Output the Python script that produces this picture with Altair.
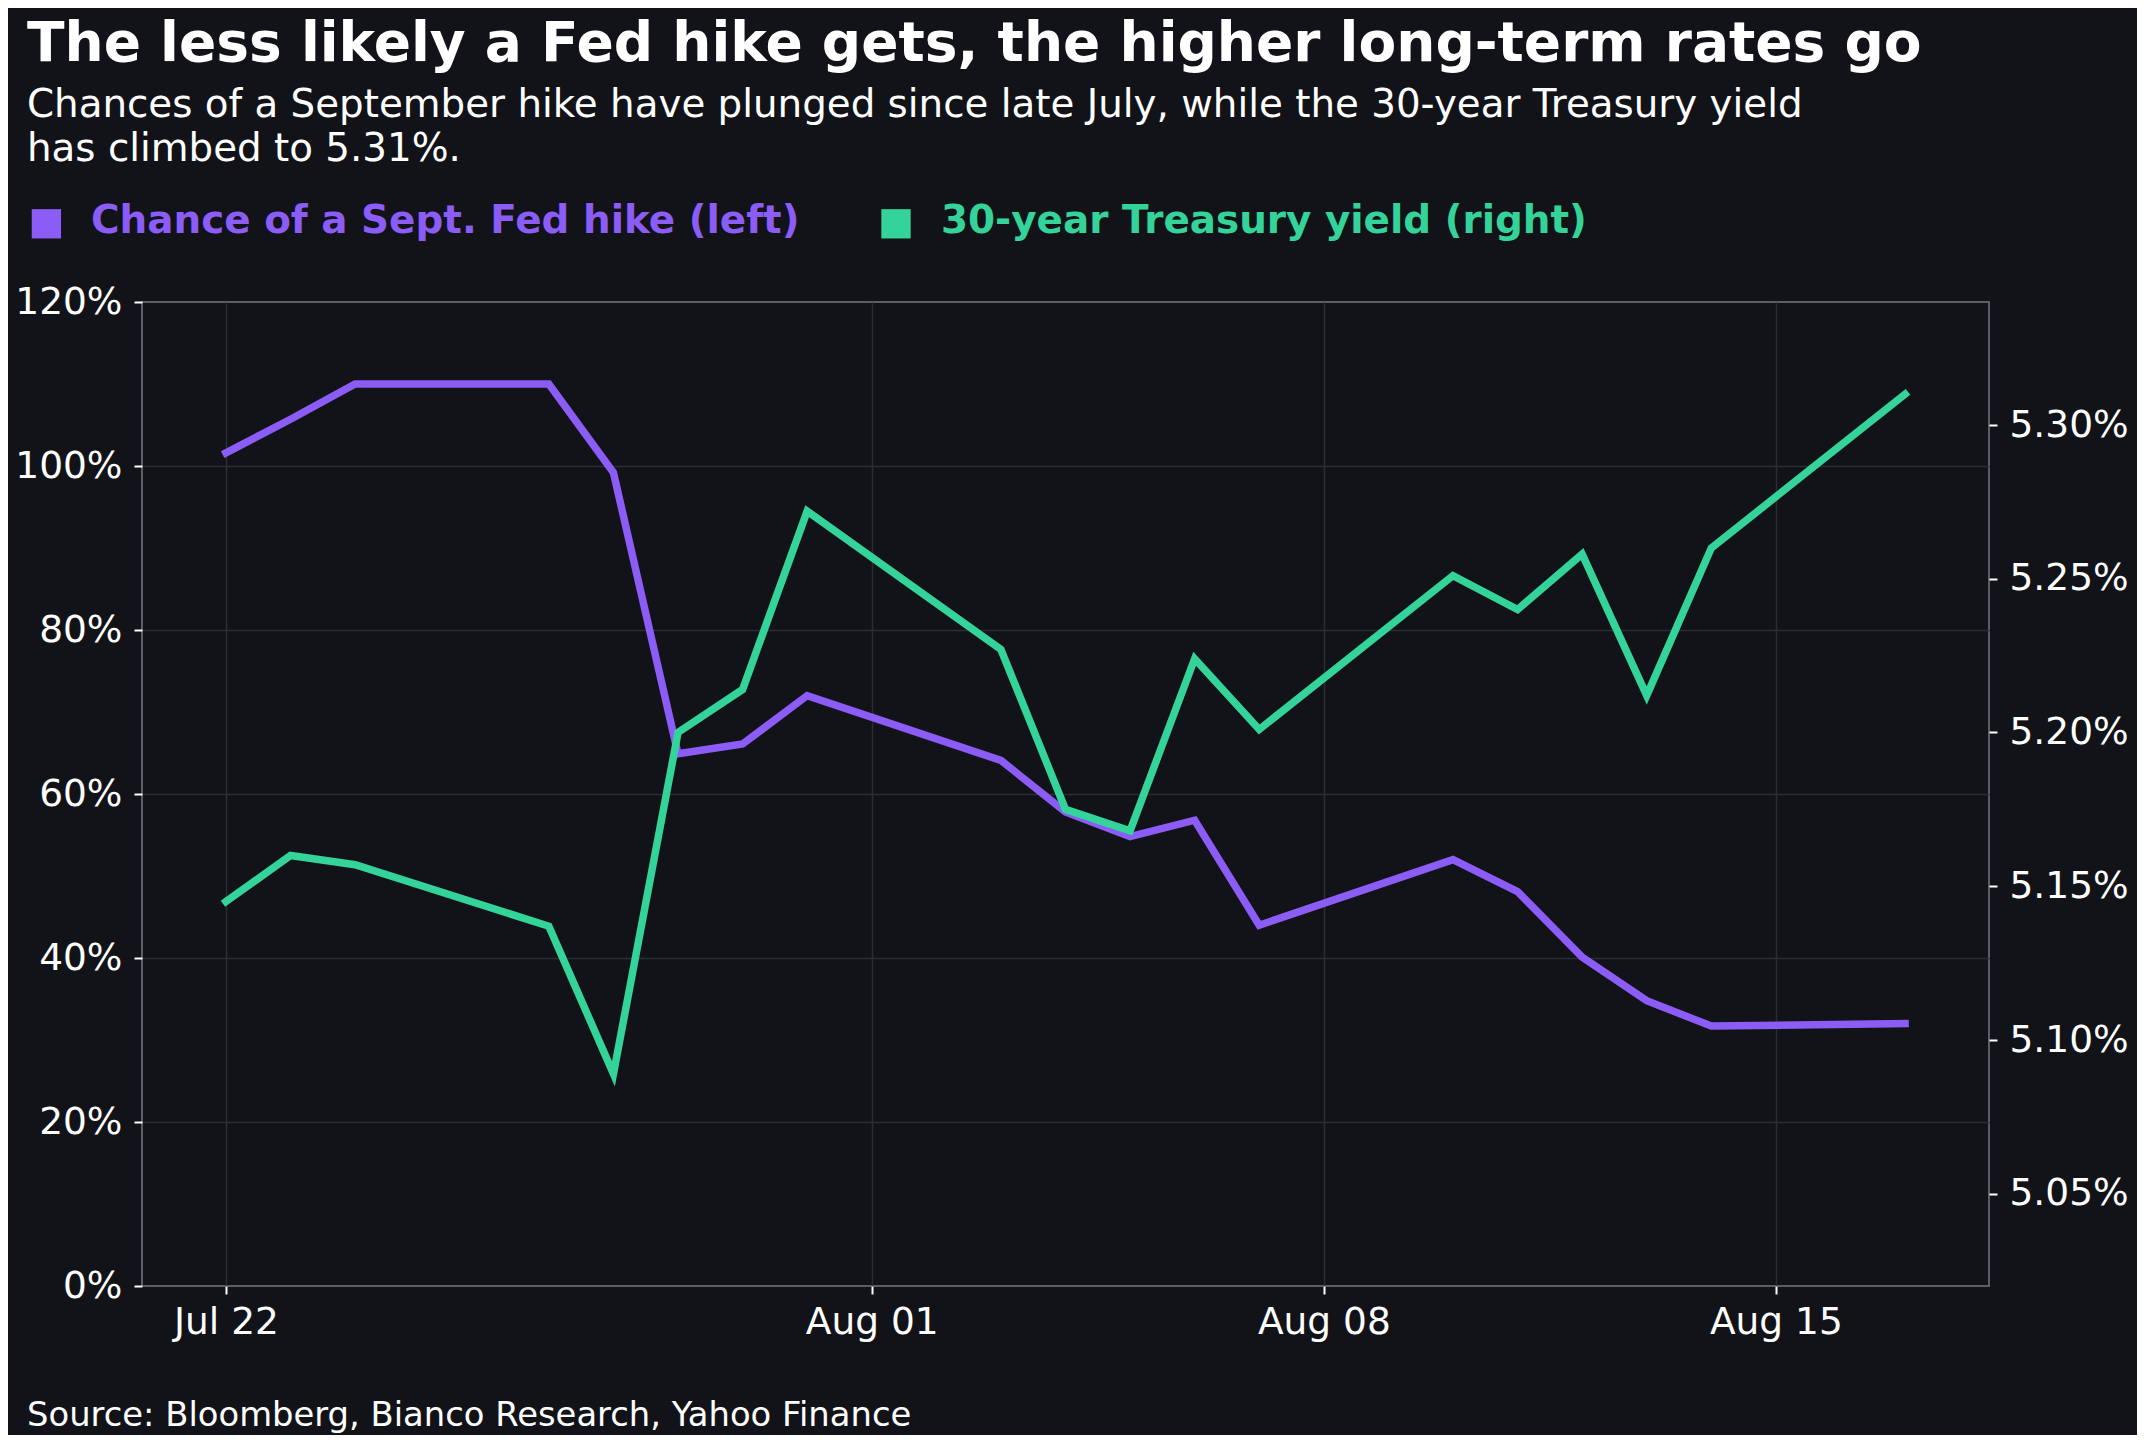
import altair as alt
import pandas as pd

# ---------------- data ----------------
dates = ["2023-07-22", "2023-07-23", "2023-07-24", "2023-07-27", "2023-07-28",
         "2023-07-29", "2023-07-30", "2023-07-31", "2023-08-03", "2023-08-04",
         "2023-08-05", "2023-08-06", "2023-08-07", "2023-08-10", "2023-08-11",
         "2023-08-12", "2023-08-13", "2023-08-14", "2023-08-17"]
fed_hike_chance = [101.6, 105.7, 110.0, 110.0, 99.2, 64.9, 66.1, 72.0, 64.1, 57.8,
                   54.8, 56.8, 44.0, 52.0, 48.1, 40.1, 34.8, 31.7, 32.0]
treasury_30y = [5.145, 5.160, 5.157, 5.137, 5.089, 5.200, 5.214, 5.272, 5.227, 5.175,
                5.168, 5.224, 5.201, 5.251, 5.240, 5.258, 5.212, 5.260, 5.310]

series_names = ["Chance of a Sept. Fed hike (left)", "30-year Treasury yield (right)"]
series_colors = ["#8B5CF6", "#34D399"]

title_text = "The less likely a Fed hike gets, the higher long-term rates go"
subtitle_lines = ["Chances of a September hike have plunged since late July, while the 30-year Treasury yield",
                  "has climbed to 5.31%."]
source_text = "Source: Bloomberg, Bianco Research, Yahoo Finance"

left_ticks = [0, 20, 40, 60, 80, 100, 120]
right_ticks = [5.05, 5.10, 5.15, 5.20, 5.25, 5.30]
x_tick_dates = [(2023, 7, 22), (2023, 8, 1), (2023, 8, 8), (2023, 8, 15)]

# ---------------- style ----------------
BG = "#121318"
GRID = "#2b2d33"
FRAME = "#5a5e69"
WHITE = "#ffffff"
FONT = "DejaVu Sans"
LINE_W = 7.5

df = pd.DataFrame({"date": dates, "chance": fed_hike_chance, "yield": treasury_30y})

x_enc = alt.X(
    "date:T",
    scale=alt.Scale(
        type="utc",
        domain=[alt.DateTime(year=2023, month=7, date=20, hours=16, minutes=48, utc=True),
                alt.DateTime(year=2023, month=8, date=18, hours=7, minutes=12, utc=True)],
    ),
    axis=alt.Axis(
        values=[alt.DateTime(year=y, month=m, date=d, utc=True) for (y, m, d) in x_tick_dates],
        format="%b %d",
        title=None,
        grid=True,
        gridColor=GRID,
        gridWidth=1.5,
        domain=False,
        tickColor=WHITE,
        tickSize=8,
        tickWidth=2,
        labelPadding=9,
        labelFont=FONT,
        labelFontSize=37.5,
        labelColor=WHITE,
        labelAngle=0,
    ),
)

base = alt.Chart(df)

purple = base.mark_line(strokeWidth=LINE_W, color=series_colors[0],
                        strokeJoin="miter", strokeCap="square").encode(
    x=x_enc,
    y=alt.Y(
        "chance:Q",
        scale=alt.Scale(domain=[0, 120], nice=False, zero=False),
        axis=alt.Axis(
            orient="left",
            values=left_ticks,
            labelExpr="datum.value + '%'",
            title=None,
            grid=True,
            gridColor={"condition": {"test": "datum.value == 0 || datum.value == 120",
                                     "value": "transparent"},
                       "value": GRID},
            gridWidth=1.5,
            domain=False,
            tickColor=WHITE,
            tickSize=8,
            tickWidth=2,
            labelPadding=12,
            labelFont=FONT,
            labelFontSize=37.5,
            labelColor=WHITE,
        ),
    ),
)

green = base.mark_line(strokeWidth=LINE_W, color=series_colors[1],
                       strokeJoin="miter", strokeCap="square").encode(
    x=x_enc,
    y=alt.Y(
        "yield:Q",
        scale=alt.Scale(domain=[5.02, 5.34], nice=False, zero=False),
        axis=alt.Axis(
            orient="right",
            values=right_ticks,
            labelExpr="format(datum.value, '.2f') + '%'",
            title=None,
            grid=False,
            domain=False,
            tickColor=WHITE,
            tickSize=8,
            tickWidth=2,
            labelPadding=12,
            labelFont=FONT,
            labelFontSize=37.5,
            labelColor=WHITE,
        ),
    ),
)


def text_layer(text, x, y, size, weight="normal", color=WHITE):
    return alt.Chart(pd.DataFrame({"t": [text]})).mark_text(
        align="left", baseline="alphabetic", font=FONT, fontSize=size,
        fontWeight=weight, color=color, x=x, y=y,
    ).encode(text="t:N")


def square_layer(name, color, x, y):
    return alt.Chart(pd.DataFrame({"name": [name]})).mark_square(
        size=860, color=color, filled=True, opacity=1, x=x, y=y,
    ).encode(detail="name:N")


title_layer = text_layer(title_text, -115, -241, 55.0, "bold")
sub1 = text_layer(subtitle_lines[0], -115, -185, 38.8)
sub2 = text_layer(subtitle_lines[1], -115, -141, 38.8)
leg_sq1 = square_layer(series_names[0], series_colors[0], -95.6, -78.2)
leg_tx1 = text_layer(series_names[0], -51, -69, 38.9, "bold", series_colors[0])
leg_sq2 = square_layer(series_names[1], series_colors[1], 754, -78.2)
leg_tx2 = text_layer(series_names[1], 799, -69, 38.9, "bold", series_colors[1])
source_layer = text_layer(source_text, -115, 1123.5, 33.8)

chart = alt.layer(
    purple, green,
    title_layer, sub1, sub2, leg_sq1, leg_tx1, leg_sq2, leg_tx2, source_layer,
).resolve_scale(
    y="independent"
).properties(
    width=1847,
    height=984,
    padding={"left": 134, "top": 294, "right": 148, "bottom": 149},
    autosize=alt.AutoSizeParams(type="none"),
).configure(
    background=BG,
).configure_view(
    fill=BG,
    stroke=FRAME,
    strokeWidth=2,
)

chart.save("out.html", embed_options={"renderer": "svg", "actions": False})
